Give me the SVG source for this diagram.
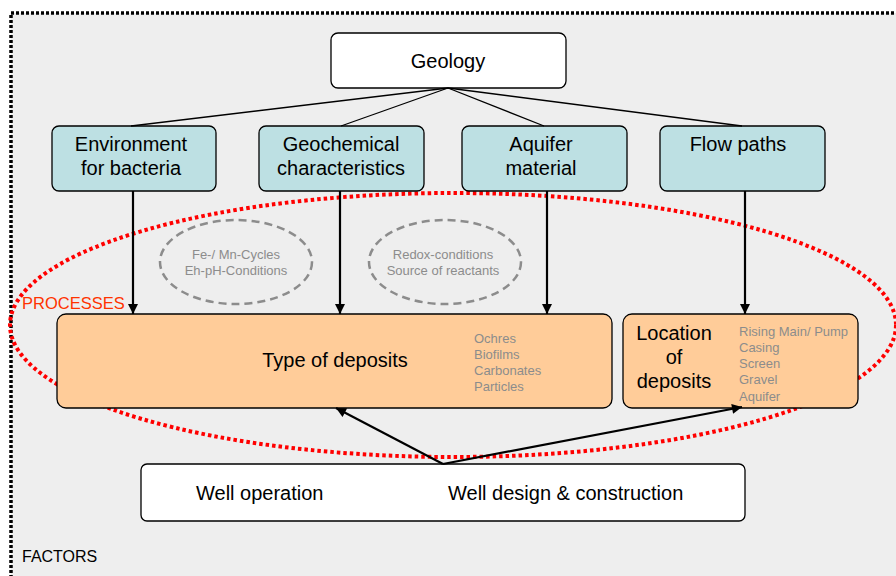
<svg xmlns="http://www.w3.org/2000/svg" width="896" height="576" viewBox="0 0 896 576">
<defs>
<marker id="ah" viewBox="0 0 10 10" refX="10" refY="5" markerWidth="11" markerHeight="10" orient="auto" markerUnits="userSpaceOnUse">
<path d="M0,0 L10,5 L0,10 z" fill="#000"/>
</marker>
<style>
text{font-family:"Liberation Sans",Arial,sans-serif}
.big{font-size:20px;fill:#000;text-anchor:middle}
.gray{font-size:13px;fill:#8c8c8c}
.grayc{font-size:13px;fill:#8c8c8c;text-anchor:middle}
.blue{fill:#bde0e3;stroke:#000;stroke-width:1.3}
.orange{fill:#ffcc99;stroke:#000;stroke-width:1.3}
.white{fill:#fff;stroke:#000;stroke-width:1.3}
.conn{stroke:#000;stroke-width:1.3;fill:none}
.arr{stroke:#000;stroke-width:2.2;fill:none;marker-end:url(#ah)}
.dell{fill:none;stroke:#8c8c8c;stroke-width:2.5;stroke-dasharray:8,5}
</style>
</defs>
<rect width="896" height="576" fill="#fff"/>
<rect x="11" y="13" width="900" height="580" fill="#eeeeee" stroke="#000" stroke-width="3.5" stroke-dasharray="3,2"/>

<g id="processes">
<ellipse cx="453" cy="325" rx="443" ry="132" fill="none" stroke="#ff0000" stroke-width="4" stroke-dasharray="3.5,3"/>
<text x="22" y="309" style="font-size:16.5px;fill:#ff3300">PROCESSES</text>
</g>

<g id="ellipses">
<ellipse cx="236" cy="262" rx="76" ry="42" class="dell"/>
<text class="grayc" x="236" y="259">Fe-/ Mn-Cycles</text>
<text class="grayc" x="236" y="275">Eh-pH-Conditions</text>
<ellipse cx="445" cy="262" rx="76" ry="42" class="dell"/>
<text class="grayc" x="443" y="259">Redox-conditions</text>
<text class="grayc" x="443" y="275">Source of reactants</text>
</g>

<g id="geology">
<rect x="331" y="33" width="235" height="55" rx="7" class="white"/>
<text class="big" x="448" y="68">Geology</text>
</g>
<g id="env">
<rect x="52" y="126" width="164" height="65" rx="7" class="blue"/>
<text class="big" x="131" y="151">Environment</text>
<text class="big" x="131" y="175">for bacteria</text>
</g>
<g id="geochem">
<rect x="259" y="126" width="165" height="65" rx="7" class="blue"/>
<text class="big" x="341" y="151">Geochemical</text>
<text class="big" x="341" y="175">characteristics</text>
</g>
<g id="aquifer">
<rect x="462" y="126" width="165" height="65" rx="7" class="blue"/>
<text class="big" x="541" y="151">Aquifer</text>
<text class="big" x="541" y="175">material</text>
</g>
<g id="flow">
<rect x="660" y="126" width="165" height="65" rx="7" class="blue"/>
<text class="big" x="738" y="151">Flow paths</text>
</g>

<g id="type">
<rect x="57" y="314" width="555" height="94" rx="9" class="orange"/>
<text class="big" x="335" y="367">Type of deposits</text>
<text class="gray" x="474" y="343">Ochres</text>
<text class="gray" x="474" y="359">Biofilms</text>
<text class="gray" x="474" y="375">Carbonates</text>
<text class="gray" x="474" y="391">Particles</text>
</g>
<g id="location">
<rect x="623" y="314" width="235" height="94" rx="9" class="orange"/>
<text class="big" x="674" y="340">Location</text>
<text class="big" x="674" y="364">of</text>
<text class="big" x="674" y="388">deposits</text>
<text class="gray" x="739" y="336">Rising Main/ Pump</text>
<text class="gray" x="739" y="352">Casing</text>
<text class="gray" x="739" y="368">Screen</text>
<text class="gray" x="739" y="384">Gravel</text>
<text class="gray" x="739" y="401">Aquifer</text>
</g>

<g id="well">
<rect x="141" y="464" width="604" height="57" rx="6" class="white"/>
<text x="196" y="500" style="font-size:20px;fill:#000">Well operation</text>
<text x="448" y="500" style="font-size:20px;fill:#000">Well design &amp; construction</text>
</g>

<g id="connectors">
<line class="conn" x1="448" y1="88" x2="131" y2="126"/>
<line class="conn" x1="448" y1="88" x2="341" y2="126"/>
<line class="conn" x1="448" y1="88" x2="544" y2="126"/>
<line class="conn" x1="448" y1="88" x2="742" y2="126"/>
<line class="arr" x1="133" y1="191" x2="133" y2="314"/>
<line class="arr" x1="340" y1="191" x2="340" y2="314"/>
<line class="arr" x1="547" y1="191" x2="547" y2="314"/>
<line class="arr" x1="745" y1="191" x2="745" y2="314"/>
<line class="arr" x1="443" y1="464" x2="336" y2="408"/>
<line class="arr" x1="443" y1="464" x2="742" y2="407"/>
</g>

<text x="22" y="562" style="font-size:16px;fill:#000">FACTORS</text>
</svg>
